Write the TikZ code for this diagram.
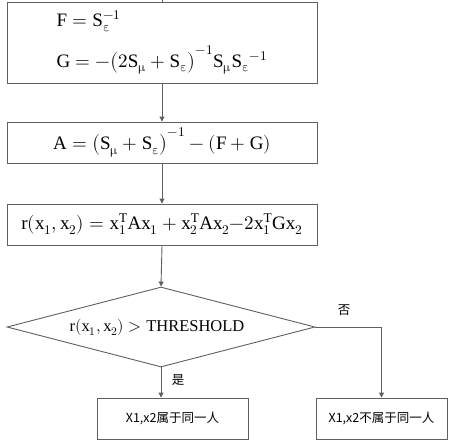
\documentclass[tikz,border=0pt]{standalone}
\usepackage{fontspec}
\usepackage{unicode-math}
\setmathfont{Latin Modern Math}
\setmathrm{Liberation Serif}
\usetikzlibrary{arrows.meta,shapes.geometric}
\newfontfamily\cjk{Noto Sans CJK SC}
\definecolor{lc}{RGB}{95,95,95}
\newcommand{\R}[1]{\mathrm{#1}}
\newcommand{\mmu}{\symup{\mu}}
\newcommand{\eeps}{\symup{\varepsilon}}
\begin{document}
\begin{tikzpicture}[x=1pt,y=1pt,
  box/.style={draw=lc,line width=0.9pt,rectangle,inner sep=0pt},
  conn/.style={draw=lc,line width=0.9pt,-{Triangle[length=5pt,width=5pt]}},
  mtxt/.style={font=\fontsize{19}{23}\selectfont},
  dtxt/.style={font=\fontsize{16.5}{20}\selectfont},
  ctxt/.style={font=\cjk\fontsize{12.5}{15}\selectfont}]
\useasboundingbox (0,0) rectangle (454,-444);
% boxes
\node[box,minimum width=310pt,minimum height=81pt] (b1) at (162,-42.5) {};
\node[mtxt,anchor=west] (f1) at (53,-21) {$\R{F}=\R{S}_{\eeps}^{-1}$};
\node[mtxt,anchor=west] (f2) at (53,-60) {$\R{G}=-\big(2\R{S}_{\mmu}+\R{S}_{\eeps}\big)^{-1}\R{S}_{\mmu}\R{S}_{\eeps}{}^{-1}$};
\node[box,minimum width=310pt,minimum height=41pt,mtxt] (b2) at (162,-142.5) {$\R{A}=\big(\R{S}_{\mmu}+\R{S}_{\eeps}\big)^{-1}-(\R{F}+\R{G})$};
\node[box,minimum width=310pt,minimum height=41pt,mtxt] (b3) at (162,-224.5) {$\R{r}(\R{x}_1,\R{x}_2)=\R{x}_1^{\R{T}}\R{A}\R{x}_1+\R{x}_2^{\R{T}}\R{A}\R{x}_2{-}2\R{x}_1^{\R{T}}\R{G}\R{x}_2$};
\node[draw=lc,line width=0.9pt,diamond,aspect=3.85,minimum width=308pt,minimum height=80pt,inner sep=0pt] (d) at (161,-327) {};
\node[dtxt] (dt) at (157,-327) {$\R{r}(\R{x}_1,\R{x}_2)>\R{THRESHOLD}$};
\node[box,minimum width=151pt,minimum height=41pt,ctxt] (b4) at (172.5,-418.5) {X1,x2属于同一人};
\node[box,minimum width=131pt,minimum height=41pt,ctxt] (b5) at (381.5,-418.5) {X1,x2不属于同一人};
% connectors
\coordinate (top) at (162,0);
\draw[draw=lc,line width=0.9pt] (top) -- (b1.north);
\draw[conn] (b1.south) -- (b2.north);
\draw[conn] (b2.south) -- (b3.north);
\draw[conn] (b3.south) -- (d.north);
\draw[conn] (d.south) -- (b4.north -| d.south);
\draw[conn] (d.east) -| (b5.north);
\node[ctxt] (yes) at (178,-380) {是};
\node[ctxt] (no) at (344,-310) {否};
\end{tikzpicture}
\end{document}
